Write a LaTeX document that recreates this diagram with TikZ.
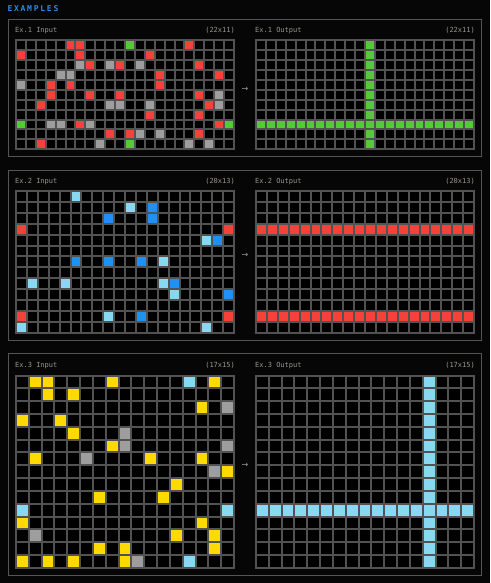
\documentclass[tikz,border=0pt]{standalone}
\usepackage{fontspec}
\setmonofont{DejaVu Sans Mono}
\newfontfamily\arrowfont{DejaVu Sans}
\definecolor{bgc}{HTML}{060606}
\definecolor{panelline}{HTML}{555555}
\definecolor{gridc}{HTML}{525252}
\definecolor{labelc}{HTML}{9A968C}
\definecolor{titlec}{HTML}{2F8BE6}
\definecolor{cR}{HTML}{F5413A}
\definecolor{cG}{HTML}{55C93A}
\definecolor{cA}{HTML}{9E9E9E}
\definecolor{cB}{HTML}{2090F5}
\definecolor{cL}{HTML}{88D8F2}
\definecolor{cY}{HTML}{FFDA00}
\tikzset{
  panel/.style={draw=panelline, line width=1pt},
  gridln/.style={draw=gridc, line width=2pt, line cap=rect},
  lbl/.style={text=labelc, inner sep=0pt, font=\ttfamily\fontsize{7}{8}\selectfont},
  titlelbl/.style={text=titlec, inner sep=0pt, font=\ttfamily\bfseries\fontsize{8}{9}\selectfont\addfontfeature{LetterSpace=22}},
  arrowlbl/.style={text=cA, inner sep=0pt, font=\arrowfont\fontsize{8}{9}\selectfont}
}
% #1 x0, #2 y0, #3 cell, #4 cols, #5 rows
\newcommand\gridbg[5]{\fill[black] (#1,#2) rectangle ({#1+#4*#3},{#2+#5*#3});}
\newcommand\gridcells[4]{\foreach \cx/\cy/\ck in {#4} {\fill[\ck] ({#1+\cx*#3},{#2+\cy*#3}) rectangle ++(#3,#3);}}
\newcommand\gridlines[5]{%
  \foreach \i in {0,...,#4} {\draw[gridln] ({#1+\i*#3},#2) -- ++(0,{#5*#3});}
  \foreach \j in {0,...,#5} {\draw[gridln] (#1,{#2+\j*#3}) -- ++({#4*#3},0);}}
% cross: #1 x0 #2 y0 #3 cell #4 cols #5 rows #6 col #7 row #8 color
\newcommand\crossfill[8]{%
  \fill[#8] ({#1+#6*#3},#2) rectangle ++(#3,{#5*#3});
  \fill[#8] (#1,{#2+#7*#3}) rectangle ++({#4*#3},#3);}
\begin{document}
\begin{tikzpicture}[x=1pt,y=-1pt]
\fill[bgc] (0,0) rectangle (490,583);
\useasboundingbox (0,0) rectangle (490,583);
\node[titlelbl, anchor=base west] (title) at (7.3,11.8) {EXAMPLES};
% panels
\draw[panel] (8.5,19.5) rectangle (481.5,156.5);
\draw[panel] (8.5,170) rectangle (481.5,340);
\draw[panel] (8.5,353.5) rectangle (481.5,575);
% ---------- Example 1 ----------
\node[lbl, anchor=base west] (l1i) at (15,32.3) {Ex.1 Input};
\node[lbl, anchor=base east] (s1i) at (235,32.3) {(22x11)};
\node[lbl, anchor=base west] (l1o) at (255,32.3) {Ex.1 Output};
\node[lbl, anchor=base east] (s1o) at (475,32.3) {(22x11)};
\gridbg{16}{40.3}{9.909}{22}{11}
\gridcells{16}{40.3}{9.909}{5/0/cR,6/0/cR,11/0/cG,17/0/cR,
 0/1/cR,6/1/cR,13/1/cR,
 6/2/cA,7/2/cR,9/2/cA,10/2/cR,12/2/cA,18/2/cR,
 4/3/cA,5/3/cA,14/3/cR,20/3/cR,
 0/4/cA,3/4/cR,5/4/cR,14/4/cR,
 3/5/cR,7/5/cR,10/5/cR,18/5/cR,20/5/cA,
 2/6/cR,9/6/cA,10/6/cA,13/6/cA,19/6/cR,20/6/cA,
 13/7/cR,18/7/cR,
 0/8/cG,3/8/cA,4/8/cA,6/8/cR,7/8/cA,20/8/cR,21/8/cG,
 9/9/cR,11/9/cR,12/9/cA,14/9/cA,18/9/cR,
 2/10/cR,8/10/cA,11/10/cG,17/10/cA,19/10/cA}
\gridlines{16}{40.3}{9.909}{22}{11}
\gridbg{256}{40.3}{9.909}{22}{11}
\crossfill{256}{40.3}{9.909}{22}{11}{11}{8}{cG}
\gridlines{256}{40.3}{9.909}{22}{11}
\node[arrowlbl] (a1) at (245,89) {→};
% ---------- Example 2 ----------
\node[lbl, anchor=base west] (l2i) at (15,183.3) {Ex.2 Input};
\node[lbl, anchor=base east] (s2i) at (235,183.3) {(20x13)};
\node[lbl, anchor=base west] (l2o) at (255,183.3) {Ex.2 Output};
\node[lbl, anchor=base east] (s2o) at (475,183.3) {(20x13)};
\gridbg{16}{191}{10.9}{20}{13}
\gridcells{16}{191}{10.9}{5/0/cL,
 10/1/cL,12/1/cB,
 8/2/cB,12/2/cB,
 0/3/cR,19/3/cR,
 17/4/cL,18/4/cB,
 5/6/cB,8/6/cB,11/6/cB,13/6/cL,
 1/8/cL,4/8/cL,13/8/cL,14/8/cB,
 14/9/cL,19/9/cB,
 0/11/cR,8/11/cL,11/11/cB,19/11/cR,
 0/12/cL,17/12/cL}
\gridlines{16}{191}{10.9}{20}{13}
\gridbg{256}{191}{10.9}{20}{13}
\fill[cR] (256,{191+3*10.9}) rectangle ++(218,10.9);
\fill[cR] (256,{191+11*10.9}) rectangle ++(218,10.9);
\gridlines{256}{191}{10.9}{20}{13}
\node[arrowlbl] (a2) at (245,255.7) {→};
% ---------- Example 3 ----------
\node[lbl, anchor=base west] (l3i) at (15,367) {Ex.3 Input};
\node[lbl, anchor=base east] (s3i) at (235,367) {(17x15)};
\node[lbl, anchor=base west] (l3o) at (255,367) {Ex.3 Output};
\node[lbl, anchor=base east] (s3o) at (475,367) {(17x15)};
\gridbg{16}{375.5}{12.8235}{17}{15}
\gridcells{16}{375.5}{12.8235}{1/0/cY,2/0/cY,7/0/cY,13/0/cL,15/0/cY,
 2/1/cY,4/1/cY,
 14/2/cY,16/2/cA,
 0/3/cY,3/3/cY,
 4/4/cY,8/4/cA,
 7/5/cY,8/5/cA,16/5/cA,
 1/6/cY,5/6/cA,10/6/cY,14/6/cY,
 15/7/cA,16/7/cY,
 12/8/cY,
 6/9/cY,11/9/cY,
 0/10/cL,16/10/cL,
 0/11/cY,14/11/cY,
 1/12/cA,12/12/cY,15/12/cY,
 6/13/cY,8/13/cY,15/13/cY,
 0/14/cY,2/14/cY,4/14/cY,8/14/cY,9/14/cA,13/14/cL}
\gridlines{16}{375.5}{12.8235}{17}{15}
\gridbg{256}{375.5}{12.8235}{17}{15}
\crossfill{256}{375.5}{12.8235}{17}{15}{13}{10}{cL}
\gridlines{256}{375.5}{12.8235}{17}{15}
\node[arrowlbl] (a3) at (245,465.7) {→};
\end{tikzpicture}
\end{document}
